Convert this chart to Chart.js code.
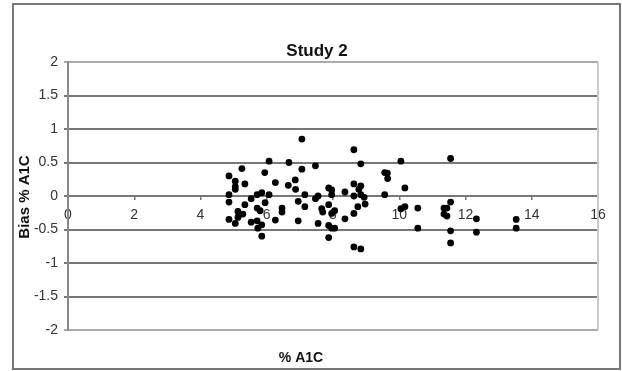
<!DOCTYPE html>
<html>
<head>
<meta charset="utf-8">
<script src="https://cdn.jsdelivr.net/npm/chart.js@4.4.1/dist/chart.umd.min.js"></script>
<style>
  html, body { margin: 0; padding: 0; background: #fff; }
  #wrap { width: 622px; height: 371px; position: relative; }
</style>
</head>
<body>
<div id="wrap"><canvas id="myChart" width="622" height="371"></canvas></div>
<script>
'use strict';
let chartTitle = 'Study 2';
let xTitle = '% A1C';
let yTitle = 'Bias % A1C';

// % A1C values (x) and bias (y)
let a1c = [4.86, 4.86, 4.86, 4.86, 5.05, 5.05, 5.05, 5.05, 5.13, 5.17, 5.25, 5.28, 5.34, 5.34, 5.13,
  5.53, 5.53, 5.71, 5.71, 5.71, 5.73, 5.80, 5.85, 5.85, 5.85, 5.94, 5.95, 6.07, 6.07, 6.26, 6.26,
  6.46, 6.46, 6.65, 6.67, 6.86, 6.87, 6.95, 6.95, 7.06, 7.06, 7.15, 7.15, 7.47, 7.47, 7.55, 7.55,
  7.66, 7.69, 7.87, 7.87, 7.87, 7.87, 7.96, 7.96, 7.96, 7.96, 8.05, 8.05, 8.36, 8.36, 8.63, 8.63,
  8.63, 8.63, 8.63, 8.75, 8.78, 8.84, 8.84, 8.84, 8.84, 8.94, 8.97, 9.56, 9.56, 9.64, 9.65, 10.05,
  10.05, 10.17, 10.17, 10.56, 10.56, 11.35, 11.35, 11.44, 11.44, 11.55, 11.55, 11.55, 11.55, 12.33,
  12.33, 13.53, 13.53];
let bias = [0.30, 0.02, -0.09, -0.35, 0.22, 0.14, 0.10, -0.41, -0.23, -0.28, 0.41, -0.27, 0.18, -0.13, -0.32,
  -0.04, -0.39, 0.02, -0.18, -0.37, -0.48, -0.22, 0.05, -0.43, -0.60, 0.35, -0.10, 0.52, 0.02, 0.20, -0.36,
  -0.18, -0.24, 0.16, 0.50, 0.24, 0.10, -0.08, -0.37, 0.85, 0.40, 0.02, -0.16, 0.45, -0.04, 0.00, -0.41,
  -0.19, -0.24, 0.12, -0.13, -0.44, -0.62, 0.09, 0.02, -0.26, -0.48, -0.22, -0.48, 0.06, -0.34, 0.69, 0.18,
  0.00, -0.26, -0.76, -0.16, 0.10, 0.48, 0.15, 0.02, -0.79, -0.02, -0.12, 0.35, 0.02, 0.34, 0.26, 0.52,
  -0.19, 0.12, -0.16, -0.18, -0.48, -0.18, -0.27, -0.18, -0.30, 0.56, -0.09, -0.52, -0.70, -0.34,
  -0.54, -0.35, -0.48];

let xMin = 0, xMax = 16, xStep = 2;
let yMin = -2, yMax = 2, yStep = 0.5;

let points = [];
for (let i = 0; i < a1c.length; i++) {
  points.push({ x: a1c[i], y: bias[i] });
}

let extras = {
  id: 'extras',
  beforeDraw(chart) {
    let c = chart.ctx;
    c.save();
    c.fillStyle = '#fff';
    c.fillRect(0, 0, chart.width, chart.height);
    c.restore();
  },
  afterDraw(chart) {
    let c = chart.ctx;
    let a = chart.chartArea;
    c.save();
    // plot area right border
    c.strokeStyle = '#c8c8c8';
    c.lineWidth = 2;
    c.beginPath();
    c.moveTo(a.right, a.top);
    c.lineTo(a.right, a.bottom);
    c.stroke();
    // outer chart border
    c.strokeStyle = '#777';
    c.lineWidth = 2;
    c.strokeRect(13, 4, 607, 365);
    // titles
    c.fillStyle = '#111';
    c.textAlign = 'center';
    c.textBaseline = 'alphabetic';
    c.font = 'bold 17px "Liberation Sans", Arial, sans-serif';
    c.fillText(chartTitle, 317, 56);
    c.font = 'bold 14px "Liberation Sans", Arial, sans-serif';
    c.fillText(xTitle, 301, 362);
    c.translate(29, 197);
    c.rotate(-Math.PI / 2);
    c.font = 'bold 15px "Liberation Sans", Arial, sans-serif';
    c.fillText(yTitle, 0, 0);
    c.restore();
  }
};

let ctx = document.getElementById('myChart').getContext('2d');
let myChart = new Chart(ctx, {
  type: 'scatter',
  data: {
    datasets: [{
      data: points,
      backgroundColor: '#000',
      borderWidth: 0,
      pointRadius: 3.4
    }]
  },
  options: {
    responsive: false,
    animation: false,
    layout: { padding: { left: 0, top: 62, right: 24, bottom: 41 } },
    plugins: {
      legend: { display: false },
      tooltip: { enabled: false }
    },
    scales: {
      x: {
        type: 'linear',
        position: { y: 0 },
        min: xMin,
        max: xMax,
        ticks: {
          stepSize: xStep,
          padding: 7,
          color: '#333',
          font: { family: '"Liberation Sans", Arial, sans-serif', size: 14 }
        },
        grid: {
          display: true,
          drawOnChartArea: false,
          drawTicks: true,
          tickLength: 4,
          color: '#777',
          lineWidth: 1.5
        },
        border: { display: false }
      },
      y: {
        min: yMin,
        max: yMax,
        afterFit: function(scale) { scale.width = 68; },
        ticks: {
          stepSize: yStep,
          padding: 6,
          color: '#333',
          font: { family: '"Liberation Sans", Arial, sans-serif', size: 14 },
          callback: function(v) { return String(v); }
        },
        grid: {
          color: function(c) {
            if (c.tick && (c.tick.value === yMax || c.tick.value === yMin)) return '#aaa';
            return '#777';
          },
          lineWidth: 2,
          tickLength: 4
        },
        border: { display: true, color: '#888', width: 2 }
      }
    }
  },
  plugins: [extras]
});
</script>
</body>
</html>
